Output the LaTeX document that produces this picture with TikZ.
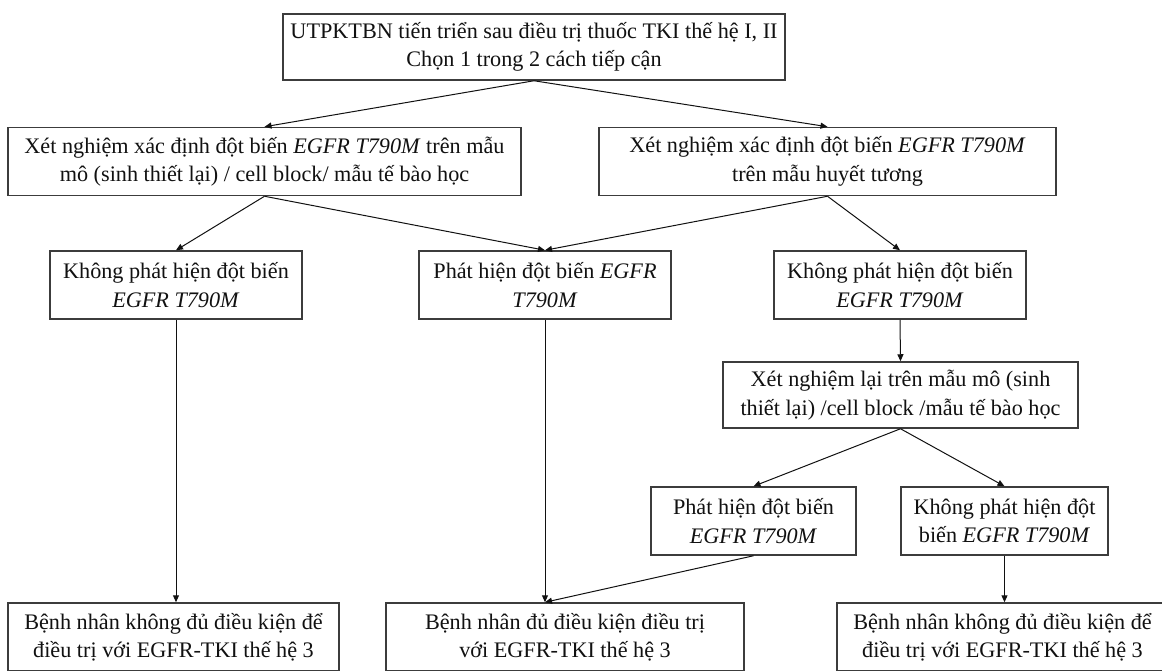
\documentclass[tikz,border=0pt]{standalone}
\usepackage{fontspec}
\setmainfont{Liberation Serif}
\usetikzlibrary{arrows.meta,calc}
\definecolor{Ink}{HTML}{111111}
\definecolor{Edge}{HTML}{3C3C3C}
\tikzset{>=Triangle,
 every node/.style={font=\fontsize{11.1}{14.15}\selectfont,text=Ink},
 box/.style={draw=Edge,line width=.75pt,fill=white,align=center,inner sep=2pt,minimum height=34pt},
 arr/.style={-{Triangle[length=3.5pt,width=3pt]},line width=.5pt,draw=Ink},
 }
\newcommand{\mut}{\textit{EGFR T790M}}
\begin{document}
\begin{tikzpicture}[x=.5pt,y=-.5pt]
 \useasboundingbox (0,0) rectangle (1162,670);
 \clip (0,0) rectangle (1162,670);
 % first level
 \node[box,minimum width=251pt,minimum height=33pt] (start) at (534,47)
  {UTPKTBN tiến triển sau điều trị thuốc TKI thế hệ I, II\\Chọn 1 trong 2 cách tiếp cận};
 \node[box,minimum width=256.5pt] (tissue) at (264.5,161.5)
  {Xét nghiệm xác định đột biến \mut{} trên mẫu\\mô (sinh thiết lại) / cell block/ mẫu tế bào học};
 \node[box,minimum width=228.5pt] (plasma) at (827.5,161.5)
  {Xét nghiệm xác định đột biến \mut\\trên mẫu huyết tương};
 % results
 \node[box,minimum width=126pt] (negT) at (176,285) {Không phát hiện đột biến\\\mut};
 \node[box,minimum width=126pt] (pos) at (545,285) {Phát hiện đột biến \textit{EGFR}\\\textit{T790M}};
 \node[box,minimum width=126pt] (negP) at (900,285) {Không phát hiện đột biến\\\mut};
 \node[box,minimum width=177.5pt,minimum height=33pt] (retest) at (900.5,395)
  {Xét nghiệm lại trên mẫu mô (sinh\\thiết lại) /cell block /mẫu tế bào học};
 \node[box,minimum width=102.5pt] (posR) at (753.5,521) {Phát hiện đột biến\\\mut};
 \node[box,minimum width=103.5pt] (negR) at (1004.5,521) {Không phát hiện đột\\biến \mut};
 % outcomes
 \node[box,minimum width=165.5pt] (noA) at (173.5,637)
  {Bệnh nhân không đủ điều kiện để\\điều trị với EGFR-TKI thế hệ 3};
 \node[box,minimum width=179pt] (yes) at (565,637)
  {Bệnh nhân đủ điều kiện điều trị\\với EGFR-TKI thế hệ 3};
 \node[box,minimum width=165.5pt] (noB) at (1002.5,637)
  {Bệnh nhân không đủ điều kiện để\\điều trị với EGFR-TKI thế hệ 3};

 \draw[arr] (start.south) -- (tissue.north);
 \draw[arr] (start.south) -- (plasma.north);
 \draw[arr] (tissue.south) -- (negT.north);
 \draw[arr] (tissue.south) -- (pos.north);
 \draw[arr] (plasma.south) -- (pos.north);
 \draw[arr] (plasma.south) -- (negP.north);
 \draw[arr] (negT.south) -- (negT.south |- noA.north);
 \draw[arr] (pos.south) -- (pos.south |- yes.north);
 \draw[arr] (negP.south) -- (retest.north);
 \draw[arr] (retest.south) -- (posR.north);
 \draw[arr] (retest.south) -- (negR.north);
 \draw[arr] (posR.south) -- (pos.south |- yes.north);
 \draw[arr] (negR.south) -- (negR.south |- noB.north);
\end{tikzpicture}
\end{document}
